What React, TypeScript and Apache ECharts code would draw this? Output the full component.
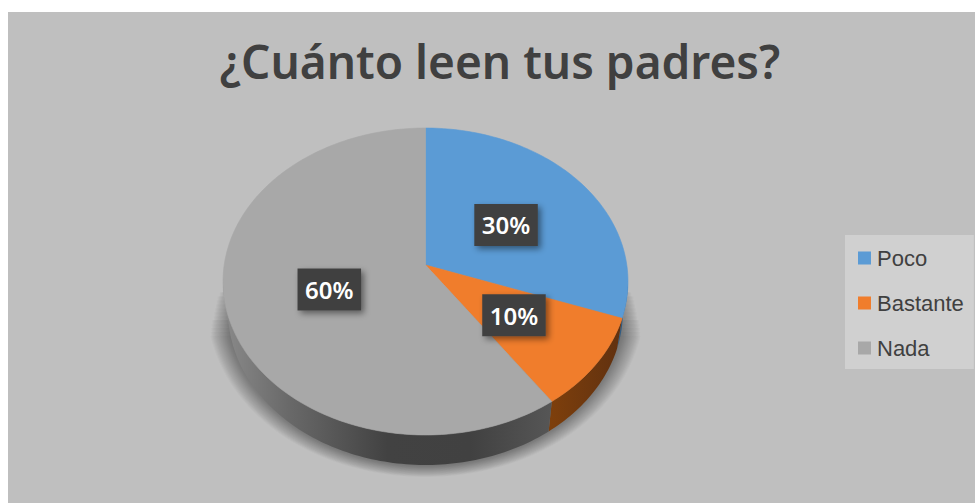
import React, { useEffect, useRef } from "react";
import * as echarts from "echarts";

const titleText = "¿Cuánto leen tus padres?";
const categories = ["Poco", "Bastante", "Nada"];
const values = [30, 10, 60];
const topColors = ["#5B9BD5", "#F07D2C", "#A8A8A8"];
const total = values.reduce((a, b) => a + b, 0);

// Perspective model of the tilted disc
const APEX_X = 425.5;
const APEX_Y = 265;
const A = 151.7;
const B = 201.3;
const P = 0.1075;
const DEPTH = 30;
const BOTTOM_X_SCALE = 0.975;
const ANGLE_WARP = 0.033;
const SHADOW_LAYERS = 18;
const TAU = Math.PI * 2;

function project(theta: number, r = 1): [number, number] {
  const u = Math.sin(theta);
  const v = -Math.cos(theta);
  const d = 1 - P * v;
  return [APEX_X + (B * u * r) / d, APEX_Y + (A * v * r) / d];
}
function arc(t0: number, t1: number): [number, number][] {
  const n = Math.max(2, Math.ceil(Math.abs(t1 - t0) / 0.02));
  const pts: [number, number][] = [];
  for (let i = 0; i <= n; i++) pts.push(project(t0 + ((t1 - t0) * i) / n));
  return pts;
}
const lower = (p: [number, number]): [number, number] => [
  APEX_X + (p[0] - APEX_X) * BOTTOM_X_SCALE,
  p[1] + DEPTH,
];
const VIS0 = Math.acos(-P);
const VIS1 = TAU - VIS0;

const rimFills = [
  { type: "linear", x: 560, y: 0, x2: 630, y2: 0, global: true, colorStops: [{ offset: 0, color: "#3b6c98" }, { offset: 1, color: "#2f5a80" }] },
  { type: "linear", x: 552, y: 0, x2: 625, y2: 0, global: true, colorStops: [{ offset: 0, color: "#7d3f0c" }, { offset: 1, color: "#5f3010" }] },
  {
    type: "linear", x: 223, y: 0, x2: 552, y2: 0, global: true,
    colorStops: [
      { offset: 0, color: "#8a8a8a" },
      { offset: 0.2, color: "#696969" },
      { offset: 0.5, color: "#424242" },
      { offset: 0.75, color: "#414141" },
      { offset: 1, color: "#565656" },
    ],
  },
];

function sliceRange(i: number): [number, number] {
  const before = values.slice(0, i).reduce((a, b) => a + b, 0);
  const warp = (t: number) => t + ANGLE_WARP * Math.sin(t);
  return [warp((before / total) * TAU), warp(((before + values[i]) / total) * TAU)];
}

function sliceSeries(i: number) {
  return {
    type: "custom",
    name: categories[i],
    coordinateSystem: "none",
    silent: true,
    itemStyle: { color: topColors[i] },
    data: [[values[i]]],
    renderItem: () => {
      const [t0, t1] = sliceRange(i);
      const children: any[] = [];
      const a0 = Math.max(t0, VIS0);
      const a1 = Math.min(t1, VIS1);
      if (a1 > a0) {
        const top = arc(a0, a1);
        children.push({
          type: "polygon",
          shape: { points: [...top, ...top.slice().reverse().map(lower)] },
          style: { fill: rimFills[i] },
        });
      }
      children.push({
        type: "polygon",
        shape: { points: [[APEX_X, APEX_Y], ...arc(t0, t1)] },
        style: { fill: topColors[i], stroke: topColors[i], lineWidth: 0.6 },
      });
      return { type: "group", children };
    },
  };
}

const shadowSeries = {
  type: "custom",
  name: "sombra",
  coordinateSystem: "none",
  silent: true,
  data: [[1]],
  renderItem: () => {
    const children: any[] = [];
    for (let k = 0; k < SHADOW_LAYERS; k++) {
      const t = (k + 1) / SHADOW_LAYERS;
      const pts: number[][] = [];
      const n = 160;
      for (let j = 0; j <= n; j++) {
        const th = VIS0 + ((VIS1 - VIS0) * j) / n;
        const p = project(th);
        const v = Math.max(0, -Math.cos(th));
        const y = p[1] + (30 + 12 * t) * Math.sqrt(v);
        if (y >= 272 + 62 * t) {
          pts.push([APEX_X + (p[0] - APEX_X) * (0.99 + 0.095 * t), y]);
        }
      }
      children.push({
        type: "polygon",
        shape: { points: pts },
        style: { fill: "rgba(0,0,0,0.022)" },
      });
    }
    return { type: "group", children };
  },
};

const labelSeries = {
  type: "custom",
  name: "etiquetas",
  coordinateSystem: "none",
  silent: true,
  data: values.map((v) => [v]),
  renderItem: (params: any, api: any) => {
    const [t0, t1] = sliceRange(params.dataIndex);
    const [mx, my] = project((t0 + t1) / 2, 0.5);
    const cx = mx + 3;
    const cy = my + 1;
    const w = 63.5;
    const h = 42;
    return {
      type: "group",
      children: [
        {
          type: "rect",
          shape: { x: cx - w / 2, y: cy - h / 2, width: w, height: h },
          style: {
            fill: "#404040",
            shadowColor: "rgba(0,0,0,0.45)",
            shadowBlur: 6,
            shadowOffsetX: 3,
            shadowOffsetY: 3,
          },
        },
        {
          type: "text",
          style: {
            x: cx,
            y: cy,
            text: `${Math.round((api.value(0) / total) * 100)}%`,
            fill: "#FFFFFF",
            font: "600 24px 'Noto Sans'",
            align: "center",
            verticalAlign: "middle",
          },
        },
      ],
    };
  },
};

export default function App() {
  const ref = useRef<HTMLDivElement>(null);
  useEffect(() => {
    const chart = echarts.init(ref.current!, undefined, { renderer: "svg" });
    chart.setOption({
      animation: false,
      backgroundColor: "#FFFFFF",
      title: {
        text: titleText,
        left: 495,
        top: 33,
        textAlign: "center",
        textStyle: {
          color: "#404040",
          fontFamily: "Noto Sans",
          fontWeight: 600,
          fontSize: 46,
        },
      },
      legend: {
        data: categories.map((name, i) => ({ name, itemStyle: { color: topColors[i] } })),
        orient: "vertical",
        left: 845,
        top: 235,
        backgroundColor: "#D0D0D0",
        padding: [12, 10, 10, 13],
        itemWidth: 13,
        itemHeight: 13,
        itemGap: 23,
        icon: "rect",
        selectedMode: false,
        textStyle: {
          color: "#404040",
          fontFamily: "Liberation Sans",
          fontSize: 22,
          padding: [0, 0, 0, 1],
        },
      },
      graphic: [
        {
          type: "rect",
          z: -1,
          shape: { x: 8, y: 12, width: 967, height: 491 },
          style: { fill: "#BFBFBF" },
          silent: true,
        },
      ],
      series: [shadowSeries, ...categories.map((_, i) => sliceSeries(i)), labelSeries],
    });
    return () => chart.dispose();
  }, []);
  return (
    <div
      ref={ref}
      style={{ position: "fixed", left: 0, top: 0, width: 975, height: 503 }}
    />
  );
}
